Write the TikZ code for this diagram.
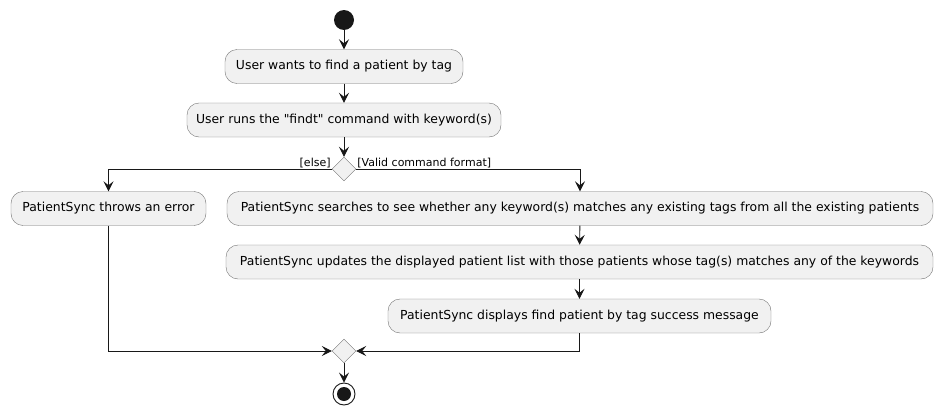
\documentclass[tikz,border=0pt]{standalone}
\usepackage{fontspec}
\setmainfont{DejaVu Sans}
\usetikzlibrary{arrows.meta,shapes.geometric}
\definecolor{actfill}{HTML}{F1F1F1}
\definecolor{actline}{HTML}{181818}
\tikzset{
  act/.style={draw=black!55, fill=actfill, rounded corners=12pt, minimum height=34pt,
    inner xsep=0pt, font=\fontsize{12.4}{14}\selectfont},
  dec/.style={draw=black!55, fill=actfill, diamond, minimum size=24pt, inner sep=0pt},
  flow/.style={draw=actline, line width=0.9pt, -{Stealth[length=10pt,width=10pt,inset=4pt]}},
  guard/.style={font=\fontsize{11}{12}\selectfont, inner sep=1pt}
}
\begin{document}
\begin{tikzpicture}[x=1pt,y=-1pt]
	\useasboundingbox (0,0) rectangle (943,415);
	\node[circle, fill=actline, minimum size=20pt, inner sep=0pt] (start) at (344,20) {};
	\node[act, minimum width=238pt] (want) at (344,66.5) {User wants to find a patient by tag};
	\node[act, minimum width=314pt] (run) at (344,120) {User runs the \textquotedbl findt\textquotedbl{} command with keyword(s)};
	\node[dec] (check) at (344,169) {};
	\node[guard, anchor=south east] (elselbl) at (check.west) {[else]};
	\node[guard, anchor=south west] (validlbl) at (check.east) {[Valid command format]};
	\node[act, minimum width=195pt] (err) at (108.5,208.5) {PatientSync throws an error};
	\node[act, minimum width=706pt] (search) at (580,208.5) {PatientSync searches to see whether any keyword(s) matches any existing tags from all the existing patients};
	\node[act, minimum width=707pt] (update) at (579.5,262) {PatientSync updates the displayed patient list with those patients whose tag(s) matches any of the keywords};
	\node[act, minimum width=383pt] (show) at (579.5,316) {PatientSync displays find patient by tag success message};
	\node[dec] (merge) at (344,351) {};
	\node[circle, draw=actline, fill=white, line width=0.9pt, minimum size=22pt, inner sep=0pt] (stop) at (344,394) {};
	\node[circle, fill=actline, minimum size=14pt, inner sep=0pt] (stopdot) at (stop.center) {};
	\draw[flow] (start) -- (want);
	\draw[flow] (want) -- (run);
	\draw[flow] (run) -- (check);
	\draw[flow] (check.west) -| (err.north);
	\draw[flow] (check.east) -| (search.north);
	\draw[flow] (search) -- (update);
	\draw[flow] (update) -- (show);
	\draw[flow] (err.south) |- (merge.west);
	\draw[flow] (show.south) |- (merge.east);
	\draw[flow] (merge) -- (stop);
\end{tikzpicture}
\end{document}
